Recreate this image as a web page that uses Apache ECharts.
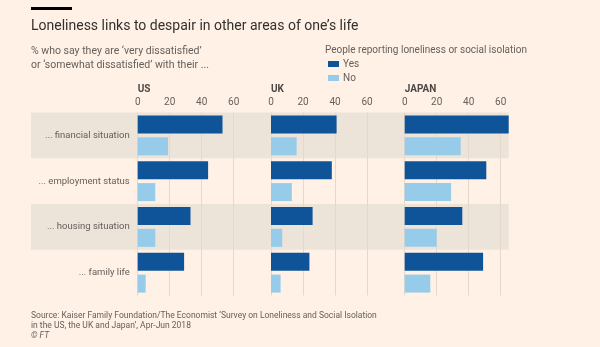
<!DOCTYPE html>
<html><head><meta charset="utf-8">
<script src="https://cdn.jsdelivr.net/npm/echarts@6/dist/echarts.min.js"></script>
<style>html,body{margin:0;padding:0;background:#fff1e5}#c{width:600px;height:347px}</style>
</head><body><div id="c"></div>
<script>
const categories = ['... financial situation', '... employment status', '... housing situation', '... family life'];
const countries = ['US', 'UK', 'JAPAN'];
const usYes = [53, 44, 33, 29];
const usNo = [19, 11, 11, 5];
const ukYes = [41, 38, 26, 24];
const ukNo = [16, 13, 7, 6];
const jpYes = [65, 51, 36, 49];
const jpNo = [35, 29, 20, 16];
const seriesNames = ['Yes', 'No'];
const tickInterval = 20;
const axisMax = 65;

const FONT = 'Roboto';
const GREY = '#66605c';
const YES = '#0f5499';
const NO = '#96cce9';
const GRIDC = '#e6d9cc';
const BAND = '#ece3d9';

const panelLefts = [137.7, 271, 404.7];
const panelW = 104;
const TOP = 112.5, H = 183;

const chart = echarts.init(document.getElementById('c'), null, {renderer: 'canvas'});
const grids = [], xAxes = [], yAxes = [], series = [];
// background band grid
grids.push({left: 31, top: TOP, width: 477.7, height: H});
xAxes.push({gridIndex: 0, type: 'value', min: 0, max: 1, show: false});
yAxes.push({gridIndex: 0, type: 'category', data: categories, inverse: true, z: -1,
  axisLine: {show: false}, axisTick: {show: false}, axisLabel: {show: false},
  splitArea: {show: true, areaStyle: {color: [BAND, 'rgba(0,0,0,0)']}}});
const data = [[usYes, usNo], [ukYes, ukNo], [jpYes, jpNo]];
panelLefts.forEach((l, i) => {
  const gi = i + 1;
  grids.push({left: l, top: TOP, width: panelW, height: H});
  xAxes.push({gridIndex: gi, type: 'value', position: 'top', min: 0, max: axisMax, interval: tickInterval,
    axisLine: {show: false}, axisTick: {show: false},
    axisLabel: {color: GREY, fontFamily: FONT, fontSize: 10, margin: 5, showMaxLabel: false},
    splitLine: {show: true, showMaxLine: false, lineStyle: {color: GRIDC, width: 1}}});
  yAxes.push({gridIndex: gi, type: 'category', data: categories, inverse: true,
    axisLine: {show: false}, axisTick: {show: false},
    axisLabel: {show: i === 0, color: GREY, fontFamily: FONT, fontSize: 9.5, margin: 8}});
  series.push({name: seriesNames[0], type: 'bar', xAxisIndex: gi, yAxisIndex: gi, data: data[i][0],
    barWidth: 18, barGap: '22%', itemStyle: {color: YES}, silent: true});
  series.push({name: seriesNames[1], type: 'bar', xAxisIndex: gi, yAxisIndex: gi, data: data[i][1],
    barWidth: 18, barGap: '22%', itemStyle: {color: NO}, silent: true});
});

const graphic = [
  {type: 'rect', shape: {x: 31, y: 7, width: 41, height: 3}, style: {fill: '#000'}},
  {type: 'text', left: 31, top: 19, style: {text: 'Loneliness links to despair in other areas of one\u2019s life', font: '14px ' + FONT, fill: '#33302e'}},
  {type: 'text', left: 31, top: 44, style: {text: '% who say they are \u2018very dissatisfied\u2019\nor \u2018somewhat dissatisfied\u2019 with their ...', font: '10.5px ' + FONT, fill: GREY, lineHeight: 14}},
  {type: 'text', left: 325, top: 45, style: {text: 'People reporting loneliness or social isolation', font: '10px ' + FONT, fill: GREY}},
  {type: 'text', left: 31, top: 311, style: {text: 'Source: Kaiser Family Foundation/The Economist \u2018Survey on Loneliness and Social Isolation\nin the US, the UK and Japan\u2019, Apr-Jun 2018', font: '8.5px ' + FONT, fill: GREY, lineHeight: 10}},
  {type: 'text', left: 31, top: 331, style: {text: '\u00a9 FT', font: 'italic 8.5px ' + FONT, fill: GREY}}
];
countries.forEach((c, i) => {
  graphic.push({type: 'text', left: panelLefts[i], top: 84, style: {text: c, font: 'bold 10px ' + FONT, fill: '#4d4845'}});
});

chart.setOption({
  backgroundColor: '#fff1e5',
  animation: false,
  grid: grids, xAxis: xAxes, yAxis: yAxes, series: series,
  legend: {data: seriesNames, orient: 'vertical', left: 328, top: 59, itemWidth: 11, itemHeight: 6, itemGap: 4,
    icon: 'rect', textStyle: {color: GREY, fontFamily: FONT, fontSize: 10, padding: [0, 0, 0, -1]}, padding: 0, selectedMode: false},
  graphic: graphic
});
</script></body></html>
